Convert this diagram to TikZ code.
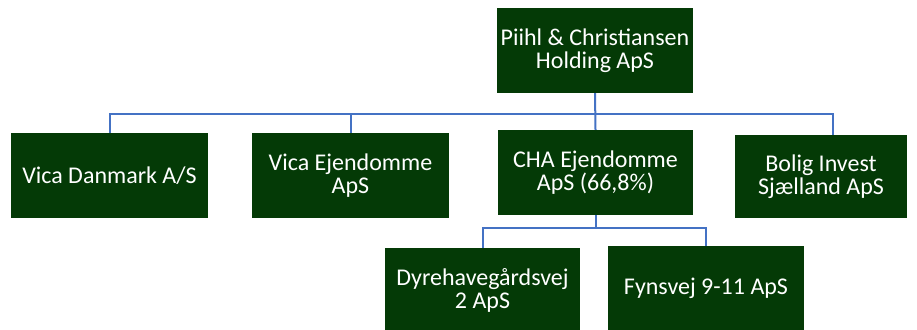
\documentclass[tikz,border=0pt]{standalone}
\usepackage{fontspec}
\setmainfont{Carlito}
\definecolor{boxgreen}{RGB}{4,58,6}
\definecolor{linkblue}{RGB}{68,114,196}
\begin{document}
\begin{tikzpicture}[x=1pt,y=-1pt,
  org/.style={draw=none,fill=boxgreen,text=white,minimum height=85pt,
    align=center,inner sep=1pt,font=\fontsize{24}{23.5}\selectfont},
  conn/.style={draw=linkblue,line width=2pt}]
\useasboundingbox (0,0) rectangle (917,329);
\clip (0,0) rectangle (917,329);
\fill[white] (0,0) rectangle (917,329);
\node[org,minimum width=196pt] (top) at (595,50.5) {Piihl \& Christiansen\\Holding ApS};
\node[org,minimum width=197pt] (vd) at (109.5,175.5) {Vica Danmark A/S};
\node[org,minimum width=197pt] (ve) at (350.5,175.5) {Vica Ejendomme\\ApS};
\node[org,minimum width=195pt] (cha) at (595.5,172.5) {CHA Ejendomme\\ApS (66,8\%)};
\node[org,minimum width=172pt,minimum height=83pt] (bolig) at (821,176.5) {Bolig Invest\\Sjælland ApS};
\node[org,minimum width=195pt] (dyr) at (482.5,290.5) {Dyrehavegårdsvej\\2 ApS};
\node[org,minimum width=196pt] (fyn) at (706,288.5) {Fynsvej 9-11 ApS};
\coordinate (bus) at (0,114);
\coordinate (sub) at (0,228);
\draw[conn] (top.south) -- (cha.north);
\draw[conn] (vd.north) -- (vd.north |- bus) -| ([xshift=12pt]bolig.north);
\draw[conn] (ve.north) -- (ve.north |- bus);
\draw[conn] (cha.south) -- (cha.south |- sub);
\draw[conn] (dyr.north) -- (dyr.north |- sub) -| (fyn.north);
\end{tikzpicture}
\end{document}
